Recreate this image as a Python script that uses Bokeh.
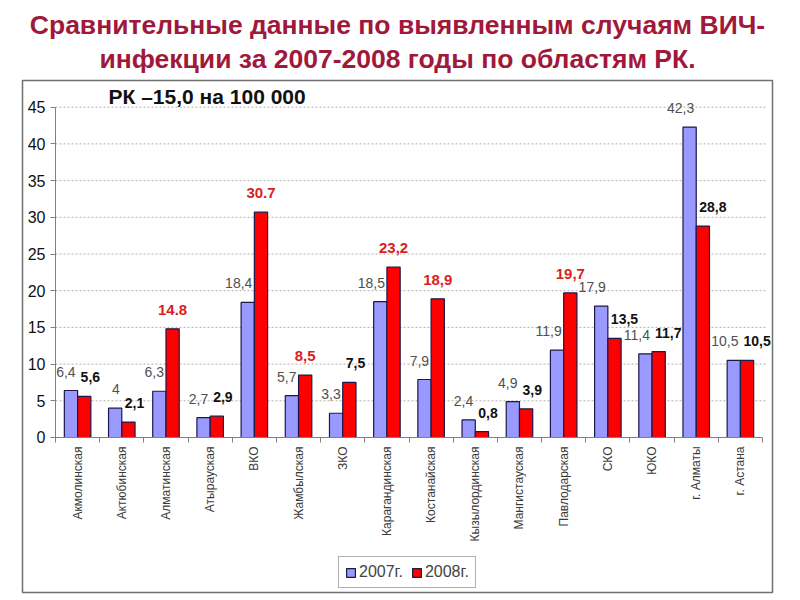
import numpy as np
from bokeh.plotting import figure
from bokeh.models import (ColumnDataSource, Range1d, LinearAxis, FixedTicker,
                          CustomJSTickFormatter, Label, Title, Legend,
                          LegendItem)
from bokeh.core.properties import value
from bokeh.embed import file_html
from bokeh.resources import INLINE

# data

regions = ["Акмолинская", "Актюбинская", "Алматинская", "Атырауская", "ВКО",
           "Жамбылская", "ЗКО", "Карагандинская", "Костанайская",
           "Кызылординская", "Мангистауская", "Павлодарская", "СКО", "ЮКО",
           "г. Алматы", "г. Астана"]
rate_2007 = [6.4, 4.0, 6.3, 2.7, 18.4, 5.7, 3.3, 18.5, 7.9, 2.4, 4.9, 11.9,
             17.9, 11.4, 42.3, 10.5]
rate_2008 = [5.6, 2.1, 14.8, 2.9, 30.7, 8.5, 7.5, 23.2, 18.9, 0.8, 3.9, 19.7,
             13.5, 11.7, 28.8, 10.5]
labels_2007 = ["6,4", "4", "6,3", "2,7", "18,4", "5,7", "3,3", "18,5", "7,9",
               "2,4", "4,9", "11,9", "17,9", "11,4", "42,3", "10,5"]
labels_2008 = ["5,6", "2,1", "14.8", "2,9", "30.7", "8,5", "7,5", "23,2",
               "18,9", "0,8", "3,9", "19,7", "13,5", "11,7", "28,8", "10,5"]
# regions whose 2008 value is marked in red on the slide
highlighted = ["Алматинская", "ВКО", "Жамбылская", "Карагандинская",
               "Костанайская", "Павлодарская"]
years = ["2007г.", "2008г."]
y_ticks = list(range(0, 50, 5))

title_lines = ["Сравнительные данные по выявленным случаям ВИЧ-",
               "инфекции за 2007-2008 годы по областям РК."]
note = "РК –15,0 на 100 000"

W, H = 800, 600
FONT = "Liberation Sans"
BLUE = "#9999FF"
RED = "#FF0000"
EDGE = "#1A1A4A"
AXIS = "#808080"
BAR_W = 0.3

n = len(regions)
centre = [i + 0.5 for i in range(n)]

# the frame is the boxed chart area; axes sit inside it at x=0 / y=0
p = figure(width=W, height=H,
           x_range=Range1d(-0.747, n + 0.226), y_range=Range1d(-21.12, 48.64),
           output_backend="svg", toolbar_location=None,
           x_axis_location=None, y_axis_location=None,
           min_border_left=22, min_border_right=28,
           min_border_top=80, min_border_bottom=8)
p.outline_line_color = "#707070"
p.outline_line_width = 1.5
p.background_fill_color = "white"
p.border_fill_color = "white"
p.xgrid.grid_line_color = None
p.ygrid.grid_line_color = None

# dotted horizontal grid between the axes
p.segment(x0=0, x1=n + 0.07, y0=y_ticks[1:], y1=y_ticks[1:],
          line_color="#B0B0B0", line_dash="2 2", line_width=1)

y_axis = LinearAxis(fixed_location=0, bounds=(0, 45),
                    ticker=FixedTicker(ticks=y_ticks),
                    axis_line_color=AXIS, major_tick_line_color=AXIS,
                    major_tick_in=0, major_tick_out=5,
                    minor_tick_line_color=None,
                    major_label_text_font=FONT,
                    major_label_text_font_size="16px",
                    major_label_text_color="#111111",
                    major_label_standoff=5)
p.add_layout(y_axis, "left")

# x axis: ticks between categories, then the rotated names
slot_axis = LinearAxis(fixed_location=0, bounds=(0, n),
                       ticker=FixedTicker(ticks=list(range(n + 1))),
                       formatter=CustomJSTickFormatter(code="return ''"),
                       major_tick_in=0, major_tick_out=5,
                       minor_tick_line_color=None,
                       axis_line_color=AXIS, major_tick_line_color=AXIS)
p.add_layout(slot_axis, "below")

name_axis = LinearAxis(fixed_location=0,
                       ticker=FixedTicker(ticks=centre),
                       formatter=CustomJSTickFormatter(
                           args=dict(names=regions),
                           code="return names[Math.floor(tick)]"),
                       axis_line_color=None, major_tick_line_color=None,
                       minor_tick_line_color=None,
                       major_tick_in=0, major_tick_out=0,
                       major_label_orientation=np.pi / 2,
                       major_label_text_font=FONT,
                       major_label_text_font_size="12px",
                       major_label_text_color="#3A3A3A",
                       major_label_standoff=9)
p.add_layout(name_axis, "below")

src = ColumnDataSource(dict(centre=centre,
                            x07=[c - BAR_W / 2 for c in centre],
                            x08=[c + BAR_W / 2 for c in centre],
                            y07=rate_2007, y08=rate_2008,
                            t07=labels_2007, t08=labels_2008))

r07 = p.vbar(x="x07", top="y07", width=BAR_W, source=src,
             fill_color=BLUE, line_color=EDGE, line_width=1.2)
r08 = p.vbar(x="x08", top="y08", width=BAR_W, source=src,
             fill_color=RED, line_color=EDGE, line_width=1.2)

# value labels
p.text(x="centre", y="y07", text="t07", source=src, text_align="right",
       text_baseline="middle", y_offset=-19, x_offset=-2,
       text_font=value(FONT), text_font_size="14px", text_color="#505050")

plain = [i for i, r in enumerate(regions) if r not in highlighted]
marked = [i for i, r in enumerate(regions) if r in highlighted]
src_plain = ColumnDataSource(dict(x=[centre[i] for i in plain],
                                  y=[rate_2008[i] for i in plain],
                                  t=[labels_2008[i] for i in plain]))
src_marked = ColumnDataSource(dict(x=[centre[i] + BAR_W / 2 for i in marked],
                                   y=[rate_2008[i] for i in marked],
                                   t=[labels_2008[i] for i in marked]))
p.text(x="x", y="y", text="t", source=src_plain, text_align="left",
       text_baseline="middle", y_offset=-19, x_offset=3,
       text_font=value(FONT), text_font_size="14px", text_font_style="bold",
       text_color="#111111")
p.text(x="x", y="y", text="t", source=src_marked, text_align="center",
       text_baseline="middle", y_offset=-19, text_font=value(FONT),
       text_font_size="15px", text_font_style="bold", text_color="#D91E1E")

# heading, nearest line first
for line, gap in ((title_lines[1], 13), (title_lines[0], -8)):
    p.add_layout(Title(text=line, align="center", text_font=FONT,
                       text_font_size="26.5px", text_font_style="bold",
                       text_color="#A0183A", standoff=gap), "above")

p.add_layout(Label(x=1.2, y=46.45, text=note, text_baseline="middle",
                   text_font=FONT, text_font_size="21px",
                   text_font_style="bold", text_color="#111111"))

legend = Legend(items=[LegendItem(label=years[0], renderers=[r07]),
                       LegendItem(label=years[1], renderers=[r08])],
                orientation="horizontal", location=(316, 4),
                border_line_color="#606060", border_line_width=1,
                background_fill_color="white", background_fill_alpha=1,
                label_text_font=FONT, label_text_font_size="16px",
                glyph_width=11, glyph_height=11, label_standoff=3,
                spacing=8, padding=6, margin=0)
p.add_layout(legend)

open("out.html", "w", encoding="utf-8").write(file_html(p, INLINE))
